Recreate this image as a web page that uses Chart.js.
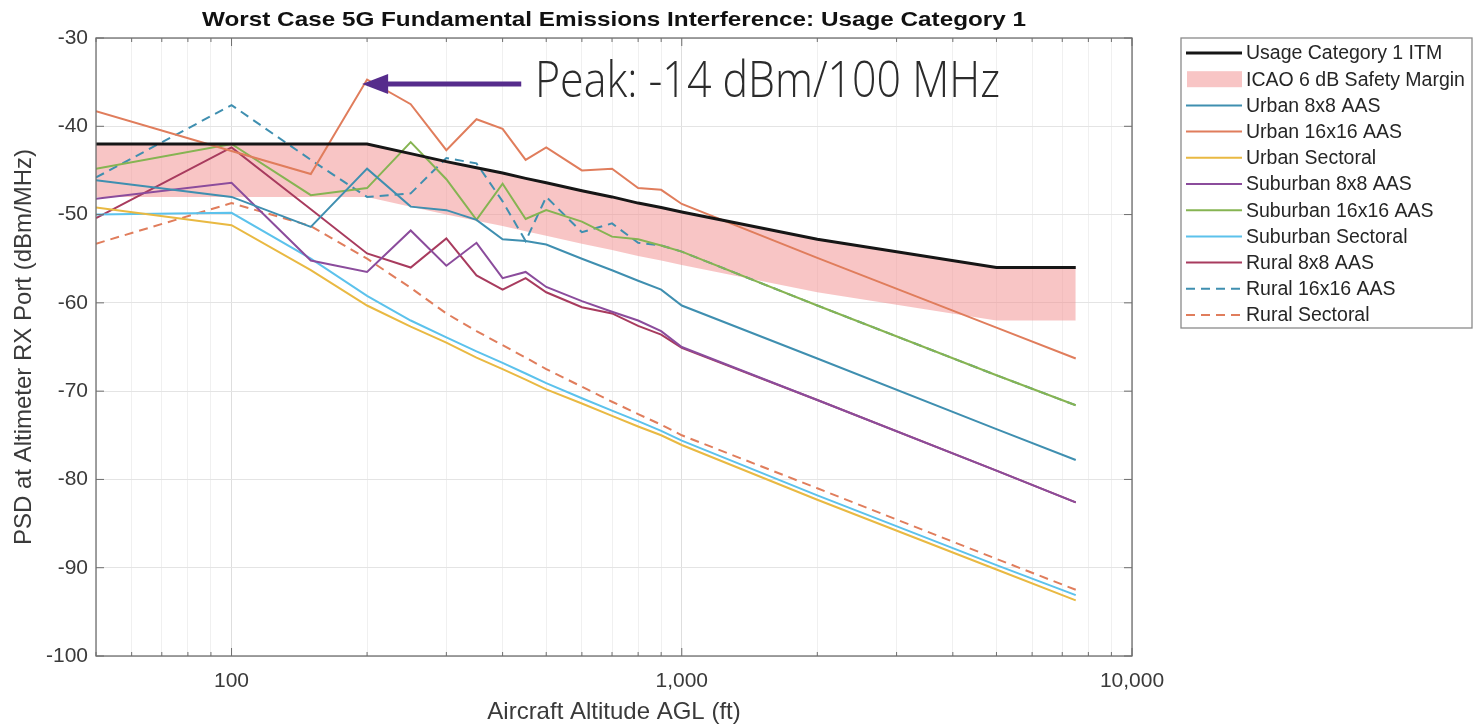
<!DOCTYPE html>
<html>
<head>
<meta charset="utf-8">
<script src="https://cdn.jsdelivr.net/npm/chart.js@4.4.0/dist/chart.umd.min.js"></script>
<style>
  html, body { margin: 0; padding: 0; background: #fff; }
</style>
</head>
<body>
<canvas id="myChart" width="1473" height="727"></canvas>
<script>
// Altitude points (ft) shared by every curve
const altitudes = [50, 100, 150, 200, 250, 300, 350, 400, 450, 500, 600, 700, 800, 900, 1000, 2000, 5000, 7500];

// PSD at altimeter RX port (dBm/MHz)
const itm          = [-42, -42, -42, -42, -43.1, -44, -44.7, -45.3, -45.9, -46.4, -47.3, -48, -48.7, -49.2, -49.7, -52.8, -56, -56];
const icaoMargin   = [-48, -48, -48, -48, -49.1, -50, -50.7, -51.3, -51.9, -52.4, -53.3, -54, -54.7, -55.2, -55.7, -58.8, -62, -62];
const urban8       = [-46.1, -48, -51.4, -44.8, -49.1, -49.5, -50.6, -52.8, -53, -53.4, -55, -56.3, -57.5, -58.5, -60.3, -66.3, -74.3, -77.8];
const urban16      = [-38.3, -42.8, -45.4, -34.7, -37.5, -42.7, -39.2, -40.3, -43.8, -42.4, -45, -44.8, -47, -47.2, -48.8, -54.9, -62.8, -66.3];
const urbanSect    = [-49.2, -51.2, -56.3, -60.3, -62.7, -64.5, -66.2, -67.5, -68.7, -69.8, -71.4, -72.8, -74, -75, -76.1, -82.3, -90.2, -93.7];
const suburban8    = [-48.2, -46.4, -55.2, -56.5, -51.8, -55.8, -53.2, -57.2, -56.5, -58.2, -59.8, -61, -62, -63.2, -65, -71, -79, -82.6];
const suburban16   = [-44.8, -42, -47.8, -47, -41.8, -46, -50.6, -46.5, -50.5, -49.5, -50.8, -52.5, -52.8, -53.5, -54.2, -60.3, -68.2, -71.6];
const suburbanSect = [-50, -49.8, -55, -59.2, -62, -63.9, -65.5, -66.8, -68, -69.1, -70.8, -72.2, -73.4, -74.5, -75.6, -81.8, -89.7, -93.1];
const rural8       = [-50.4, -42.4, -49.4, -54.4, -56, -52.7, -56.9, -58.5, -57.2, -58.8, -60.5, -61.2, -62.6, -63.6, -65.1, -71, -79, -82.6];
const rural16      = [-45.8, -37.6, -43.8, -48, -47.6, -43.6, -44.2, -48.5, -53, -48, -52, -51, -53.2, -53.5, -54.2, -60.3, -68.2, -71.6];
const ruralSect    = [-53.3, -48.7, -51.3, -55, -58.3, -61.2, -63.2, -64.8, -66.2, -67.5, -69.5, -71.2, -72.6, -73.8, -75, -81, -89, -92.5];

// Axis ticks
const xTickValues = [50, 60, 70, 80, 90, 100, 200, 300, 400, 500, 600, 700, 800, 900,
                     1000, 2000, 3000, 4000, 5000, 6000, 7000, 8000, 9000, 10000];
const xTickLabels = [100, 1000, 10000];

const chartTitle = 'Worst Case 5G Fundamental Emissions Interference: Usage Category 1';
const peakText = 'Peak: -14 dBm/100 MHz';

const series = [
  { label: 'Urban 8x8 AAS',       data: urban8,       color: '#3f8fb0', dash: [] },
  { label: 'Urban 16x16 AAS',     data: urban16,      color: '#e07d5c', dash: [] },
  { label: 'Urban Sectoral',      data: urbanSect,    color: '#e9b942', dash: [] },
  { label: 'Suburban 8x8 AAS',    data: suburban8,    color: '#8b4c9c', dash: [] },
  { label: 'Suburban 16x16 AAS',  data: suburban16,   color: '#86b452', dash: [] },
  { label: 'Suburban Sectoral',   data: suburbanSect, color: '#5cc2ec', dash: [] },
  { label: 'Rural 8x8 AAS',       data: rural8,       color: '#a83b5e', dash: [] },
  { label: 'Rural 16x16 AAS',     data: rural16,      color: '#3f8fb0', dash: [9, 6] },
  { label: 'Rural Sectoral',      data: ruralSect,    color: '#e07d5c', dash: [9, 6] },
];

function pts(values) {
  return altitudes.map((a, i) => ({ x: a, y: values[i] }));
}

const datasets = [
  {
    label: 'Usage Category 1 ITM',
    data: pts(itm),
    borderColor: '#161616',
    backgroundColor: '#161616',
    borderWidth: 3,
    order: 0,
  },
  {
    label: 'ICAO 6 dB Safety Margin',
    data: pts(icaoMargin),
    borderColor: 'rgba(0,0,0,0)',
    backgroundColor: 'rgba(242,140,140,0.5)',
    borderWidth: 0,
    fill: 0,
    order: 50,
  },
];
series.forEach((s, i) => {
  datasets.push({
    label: s.label,
    data: pts(s.data),
    borderColor: s.color,
    backgroundColor: s.color,
    borderWidth: 2,
    borderDash: s.dash,
    order: 1 + i,
  });
});

const FONT = '"Liberation Sans", Arial, sans-serif';

// draws text squeezed/stretched to a given width
function fitText(ctx, text, x, y, width) {
  const w = ctx.measureText(text).width;
  ctx.save();
  ctx.translate(x, y);
  ctx.scale(width / w, 1);
  ctx.fillText(text, 0, 0);
  ctx.restore();
}

// box, inward ticks, annotation, title and legend
const extras = {
  id: 'extras',
  afterDatasetsDraw(chart) {
    const { ctx, chartArea: a, scales } = chart;
    const xs = scales.x, ys = scales.y;
    ctx.save();
    // axes box
    ctx.strokeStyle = '#6e6e6e';
    ctx.lineWidth = 1.3;
    ctx.strokeRect(a.left, a.top, a.right - a.left, a.bottom - a.top);
    // inward tick marks
    ctx.lineWidth = 1;
    ctx.beginPath();
    xTickValues.forEach(v => {
      const px = xs.getPixelForValue(v);
      const len = xTickLabels.includes(v) ? 8 : 4;
      ctx.moveTo(px, a.bottom); ctx.lineTo(px, a.bottom - len);
      ctx.moveTo(px, a.top); ctx.lineTo(px, a.top + len);
    });
    ys.ticks.forEach(t => {
      const py = ys.getPixelForValue(t.value);
      ctx.moveTo(a.left, py); ctx.lineTo(a.left + 8, py);
      ctx.moveTo(a.right, py); ctx.lineTo(a.right - 8, py);
    });
    ctx.stroke();

    // peak annotation
    const tipX = xs.getPixelForValue(195), tipY = ys.getPixelForValue(-35.2);
    const tailX = xs.getPixelForValue(440);
    ctx.strokeStyle = '#562c8c';
    ctx.fillStyle = '#562c8c';
    ctx.lineWidth = 5;
    ctx.beginPath();
    ctx.moveTo(tailX, tipY);
    ctx.lineTo(tipX + 20, tipY);
    ctx.stroke();
    ctx.beginPath();
    ctx.moveTo(tipX, tipY);
    ctx.lineTo(tipX + 26, tipY - 10);
    ctx.lineTo(tipX + 26, tipY + 10);
    ctx.closePath();
    ctx.fill();

    ctx.font = '300 49px "Open Sans", sans-serif';
    ctx.fillStyle = '#2b2b2b';
    ctx.textBaseline = 'alphabetic';
    fitText(ctx, peakText, xs.getPixelForValue(472), ys.getPixelForValue(-36.7), 465);
    ctx.restore();
  },
  afterDraw(chart) {
    const { ctx, chartArea: a } = chart;
    const ds = chart.data.datasets;

    // title, centred over the plot area
    ctx.save();
    ctx.font = 'bold 21px ' + FONT;
    ctx.fillStyle = '#111';
    ctx.textBaseline = 'alphabetic';
    const tw = 824;
    fitText(ctx, chartTitle, (a.left + a.right) / 2 - tw / 2, 26, tw);
    ctx.restore();

    // legend
    const bx = 1181, by = 38, bw = 291, rowH = 26.2;
    ctx.save();
    ctx.fillStyle = '#ffffff';
    ctx.fillRect(bx, by, bw, 290);
    ctx.strokeStyle = '#8a8a8a';
    ctx.lineWidth = 1.3;
    ctx.strokeRect(bx, by, bw, 290);
    ctx.font = '19.5px ' + FONT;
    ctx.textBaseline = 'middle';
    ds.forEach((d, i) => {
      const cy = by + 15 + i * rowH;
      if (d.fill === 0) {
        ctx.fillStyle = d.backgroundColor;
        ctx.fillRect(bx + 6, cy - 8, 55, 16);
      } else {
        ctx.strokeStyle = d.borderColor;
        ctx.lineWidth = d.borderWidth;
        ctx.setLineDash(d.borderDash || []);
        ctx.beginPath();
        ctx.moveTo(bx + 5, cy);
        ctx.lineTo(bx + 61, cy);
        ctx.stroke();
        ctx.setLineDash([]);
      }
      ctx.fillStyle = '#262626';
      ctx.fillText(d.label, bx + 65, cy + 1);
    });
    ctx.restore();
  }
};

const config = {
  type: 'line',
  data: { datasets: datasets },
  options: {
    responsive: false,
    animation: false,
    devicePixelRatio: 1,
    layout: { padding: { left: 0, right: 341, top: 38, bottom: 0 } },
    elements: { point: { radius: 0 }, line: { tension: 0 } },
    plugins: {
      legend: { display: false },
      tooltip: { enabled: false },
      title: { display: false },
    },
    scales: {
      x: {
        type: 'logarithmic',
        min: 50,
        max: 10000,
        afterBuildTicks: (axis) => { axis.ticks = xTickValues.map(v => ({ value: v })); },
        afterFit: (axis) => { axis.height = 71; },
        border: { display: false },
        grid: {
          drawTicks: false,
          color: (c) => xTickLabels.includes(c.tick && c.tick.value) ? '#dedede' : '#f0f0f0',
          lineWidth: 1,
        },
        ticks: {
          autoSkip: false,
          maxRotation: 0,
          padding: 13,
          color: '#3a3a3a',
          font: { family: FONT, size: 21 },
          callback: (v) => xTickLabels.includes(v) ? v.toLocaleString('en-US') : '',
        },
        title: {
          display: true,
          text: 'Aircraft Altitude AGL (ft)',
          color: '#3a3a3a',
          font: { family: FONT, size: 24 },
          padding: { top: 0, bottom: 0 },
        },
      },
      y: {
        min: -100,
        max: -30,
        afterFit: (axis) => { axis.width = 96; },
        border: { display: false },
        grid: { drawTicks: false, color: '#e4e4e4' },
        ticks: {
          stepSize: 10,
          padding: 8,
          color: '#3a3a3a',
          font: { family: FONT, size: 21 },
        },
        title: {
          display: true,
          text: 'PSD at Altimeter RX Port (dBm/MHz)',
          color: '#3a3a3a',
          font: { family: FONT, size: 24 },
          padding: { top: 10, bottom: 0 },
        },
      },
    },
  },
  plugins: [extras],
};

const myChart = new Chart(document.getElementById('myChart'), config);
</script>
</body>
</html>
